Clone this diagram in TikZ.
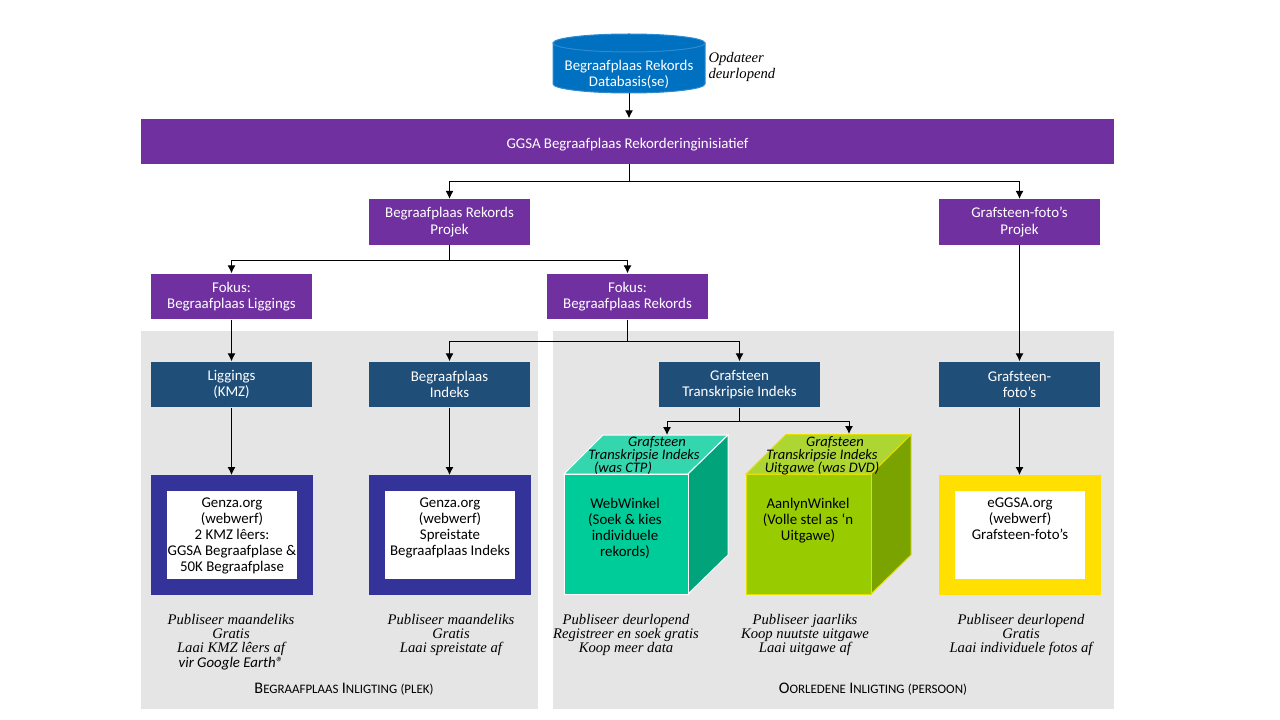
\documentclass[tikz,border=0pt]{standalone}
\usepackage{fontspec}
\setmainfont{Carlito}
\newfontfamily\notefont{Liberation Serif}
\usetikzlibrary{arrows.meta}
\definecolor{projpurple}{RGB}{112,48,160}
\definecolor{stepblue}{RGB}{31,78,121}
\definecolor{dbblue}{RGB}{0,112,192}
\definecolor{panelgrey}{RGB}{229,229,229}
\definecolor{framenavy}{RGB}{51,51,153}
\definecolor{frameyellow}{RGB}{255,224,0}
\newcommand\capsword[2]{{\fontsize{12.1}{13}\selectfont #1}{\fontsize{9.7}{13}\selectfont #2}}
\tikzset{every picture/.style={line width=0.75pt},
  plain/.style={inner sep=0pt,align=center,font=\fontsize{11.15}{12}\selectfont},
  purplebox/.style={plain,fill=projpurple,text=white,minimum width=120.75pt,minimum height=34pt,font=\fontsize{11.15}{12.4}\selectfont,execute at begin node={\rule{0pt}{12.5pt}}},
  bluebox/.style={plain,fill=stepblue,text=white,minimum width=120.75pt,minimum height=34pt,font=\fontsize{11.15}{12.4}\selectfont,execute at begin node={\rule{0pt}{12.5pt}}},
  framebox/.style={plain,fill=white,draw=#1,line width=12pt,minimum width=109pt,minimum height=78pt,text=black},
  note/.style={inner sep=0pt,align=center,font=\notefont\itshape\fontsize{11}{10.6}\selectfont},
  facelabel/.style={plain,font=\itshape\fontsize{10.9}{9.8}\selectfont},
  panel/.style={fill=panelgrey},
  arrow/.style={-{Latex[length=6pt,width=6pt]},black},
  joint/.style={black}}

\begin{document}
\begin{tikzpicture}[x=0.75pt,y=0.75pt,yscale=-1,xscale=1]
\useasboundingbox (0,0) rectangle (1280,720);

%Shape: Panels
\fill [panel] (141,331) rectangle (538,709);
\fill [panel] (553,331) rectangle (1114,709);

%Shape: Can
\filldraw [draw={rgb,255:red,46;green,139;blue,209},fill=dbblue] (553,43) -- (553,84) arc [start angle=180,end angle=0,x radius=76,y radius=9] -- (705,43) -- cycle;
\filldraw [draw={rgb,255:red,46;green,139;blue,209},fill=dbblue] (629,43) ellipse [x radius=76,y radius=9];
\node (database) [plain,text=white,minimum height=27.75pt] at (629,74.5) {Begraafplaas Rekords\\Databasis(se)};
\node (update) [note,anchor=west,align=left,font=\notefont\itshape\fontsize{11}{12}\selectfont] at (708,67) {Opdateer\\deurlopend};

%Shape: Rectangle
\node (initiative) [purplebox,minimum width=729.75pt] at (627.5,141.5) {GGSA Begraafplaas Rekorderinginisiatief};
\node (recordproject) [purplebox] at (449.5,222) {Begraafplaas Rekords\\Projek};
\node (photoproject) [purplebox] at (1019.5,222) {Grafsteen-foto’s\\Projek};
\node (focusplace) [purplebox] at (231.5,296.5) {Fokus:\\Begraafplaas Liggings};
\node (focusrecord) [purplebox] at (627.5,296.5) {Fokus:\\Begraafplaas Rekords};
\node (locations) [bluebox] at (231.5,384.5) {Liggings\\(KMZ)};
\node (index) [bluebox] at (449.5,384.5) {Begraafplaas\\Indeks};
\node (transcript) [bluebox] at (739.5,384.5) {Grafsteen\\Transkripsie Indeks};
\node (photos) [bluebox] at (1019.5,384.5) {Grafsteen-\\foto’s};

%Shape: Frames
\node (genzakmz) [framebox=framenavy] at (232,535) {};
\node (genzaspread) [framebox=framenavy] at (450,535) {};
\node (eggsa) [framebox=frameyellow] at (1020,535) {};
\node (genzakmztext) [plain,anchor=north] at (232,497.5) {Genza.org\\(webwerf)\\2 KMZ lêers:\\GGSA Begraafplase \&\\50K Begraafplase};
\node (genzaspreadtext) [plain,anchor=north] at (450,497.5) {Genza.org\\(webwerf)\\Spreistate\\Begraafplaas Indeks};
\node (eggsatext) [plain,anchor=north] at (1020,497.5) {eGGSA.org\\(webwerf)\\Grafsteen-foto’s};

%Shape: Cube
\filldraw [draw=white,fill={rgb,255:red,51;green,214;blue,173}] (564,474) -- (603,435) -- (728,435) -- (688,474) -- cycle;
\filldraw [draw=white,fill={rgb,255:red,0;green,163;blue,122}] (688,474) -- (728,435) -- (728,555) -- (688,594) -- cycle;
\node (webshop) [plain,draw=white,fill={rgb,255:red,0;green,204;blue,153},minimum width=93pt,minimum height=90pt] at (626,534) {};
\filldraw [draw={rgb,255:red,230;green,224;blue,0},fill={rgb,255:red,173;green,214;blue,51}] (746,474) -- (786,434.5) -- (911,434.5) -- (871,474) -- cycle;
\filldraw [draw={rgb,255:red,230;green,224;blue,0},fill={rgb,255:red,122;green,163;blue,0}] (871,474) -- (911,434.5) -- (911,555) -- (871,594) -- cycle;
\node (onlineshop) [plain,draw={rgb,255:red,230;green,224;blue,0},fill={rgb,255:red,153;green,204;blue,0},minimum width=93.75pt,minimum height=90pt] at (808.5,534) {};
\coordinate (webtop) at (667,435);
\coordinate (onlinetop) at (849,434);

% Text Node
\node (webtoptext) [facelabel,anchor=north] at (644,436) {\hspace*{19.5pt}Grafsteen\\Transkripsie Indeks\\\hspace*{-31.5pt}(was CTP)};
\node (onlinetoptext) [facelabel,anchor=north] at (822,436) {\hspace*{19.5pt}Grafsteen\\Transkripsie Indeks\\Uitgawe (was DVD)};
\node (webtext) [plain,anchor=north] at (625,497.5) {WebWinkel\\(Soek \& kies\\individuele\\rekords)};
\node (onlinetext) [plain,anchor=north] at (808,497.5) {AanlynWinkel\\(Volle stel as ‘n\\Uitgawe)};

% Text Node
\node (notekmz) [note,anchor=north] at (231,614) {Publiseer maandeliks\\Gratis\\Laai KMZ lêers af\\{\rmfamily\itshape\fontsize{11.15}{11}\selectfont vir Google Earth®}};
\node (notespread) [note,anchor=north] at (451,614) {Publiseer maandeliks\\Gratis\\Laai spreistate af};
\node (noteweb) [note,anchor=north] at (626,614) {Publiseer deurlopend\\Registreer en soek gratis\\Koop meer data};
\node (noteonline) [note,anchor=north] at (805,614) {Publiseer jaarliks\\Koop nuutste uitgawe\\Laai uitgawe af};
\node (notephotos) [note,anchor=north] at (1021,614) {Publiseer deurlopend\\Gratis\\Laai individuele fotos af};
\node (placelabel) [plain] at (344,689) {\capsword{B}{EGRAAFPLAAS} \capsword{I}{NLIGTING} \capsword{}{(PLEK)}};
\node (personlabel) [plain] at (873,689) {\capsword{O}{ORLEDENE} \capsword{I}{NLIGTING} \capsword{}{(PERSOON)}};

%Straight Lines
\draw [arrow] (database.south) -- (initiative.north -| database.south);
\coordinate (initiativedrop) at (629,164);
\coordinate (projectbar) at (629,182);
\draw [joint] (initiativedrop) -- (projectbar);
\draw [arrow] (projectbar) -| (recordproject.north);
\draw [arrow] (projectbar) -| (photoproject.north);
\coordinate (focusbar) at (recordproject.south |- 0,260);
\draw [joint] (recordproject.south) -- (focusbar);
\draw [arrow] (focusbar) -| (focusplace.north);
\draw [arrow] (focusbar) -| (focusrecord.north);
\draw [arrow] (focusplace.south) -- (locations.north);
\coordinate (recordbar) at (focusrecord.south |- 0,341);
\draw [joint,line width=1pt] (focusrecord.south) -- (recordbar);
\draw [arrow] (recordbar) -| (index.north);
\draw [arrow] (recordbar) -| (transcript.north);
\draw [arrow] (photoproject.south) -- (photos.north);
\draw [arrow] (locations.south) -- (locations.south |- genzakmz.north);
\draw [arrow] (index.south) -- (index.south |- genzaspread.north);
\draw [arrow] (photos.south) -- (photos.south |- eggsa.north);
\coordinate (shopbar) at (transcript.south |- 0,421);
\draw [joint,line width=1pt] (transcript.south) -- (shopbar);
\draw [arrow] (shopbar) -| (webtop);
\draw [arrow] (shopbar) -| (onlinetop);
\end{tikzpicture}
\end{document}
